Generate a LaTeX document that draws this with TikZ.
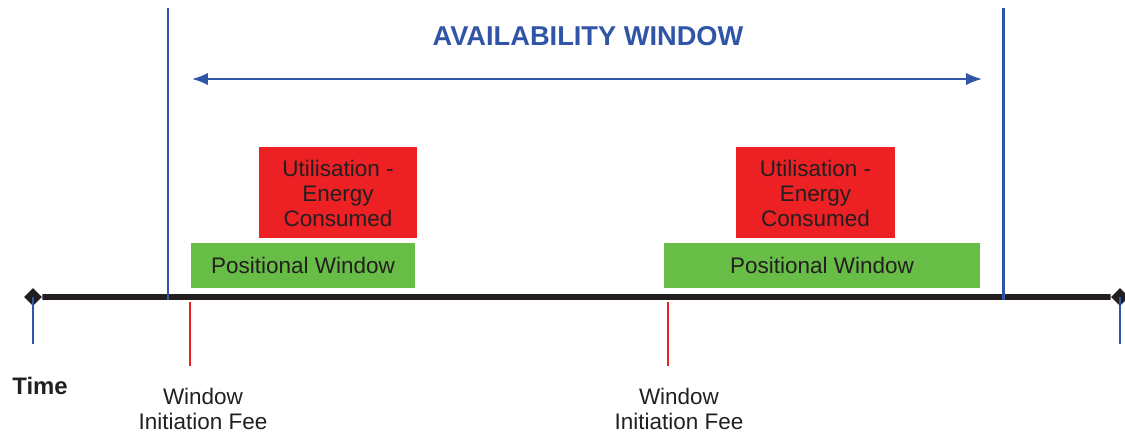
\documentclass[tikz,border=0pt]{standalone}
\usepackage{fontspec}
\setmainfont{Liberation Sans}
\usepackage{xcolor}
\usetikzlibrary{arrows.meta, positioning}

\definecolor{winblue}{RGB}{48,84,166}
\definecolor{usered}{RGB}{237,32,36}
\definecolor{posgreen}{RGB}{103,189,69}
\definecolor{axisblack}{RGB}{35,31,32}

\begin{document}
\begin{tikzpicture} [x = 0.02cm, y = -0.02cm, font=\fontsize{12.8}{14.2}\selectfont,
		usebox/.style = {fill = usered, text = axisblack, align = center, inner sep = 0pt,
		minimum width = 3.17cm, minimum height = 1.82cm},
		posbox/.style = {fill = posgreen, text = axisblack, inner sep = 0pt, minimum height = 0.9cm},
		feetext/.style = {align = center, text = axisblack},
		endmark/.style = {rectangle, rotate = 45, fill = axisblack, inner sep = 0pt, minimum size = 0.25cm}]
		% Help grid
		%	\draw [help lines] (0,0) grid [step = 50] (1125,434);
		\useasboundingbox (0,0) rectangle (1125,434);

		% Title and the window borders
		\node (title) [winblue, font = \fontsize{15.5}{18}\selectfont\bfseries] at (588,36) {AVAILABILITY WINDOW};
		\coordinate (avlt) at (168,8);
		\coordinate (avlb) at (168,300);
		\coordinate (avrt) at (1003,8);
		\coordinate (avrb) at (1003,300);
		\coordinate (arrl) at (192,79);
		\coordinate (arrr) at (982,79);

		% Time axis
		\node (start) [endmark] at (33,297) {};
		\node (end) [endmark] at (1120,297) {};
		\coordinate (startb) at (33,344);
		\coordinate (endb) at (1120,344);

		% Boxes
		\node (pos1) [posbox, minimum width = 4.48cm] at (303,265.5) {Positional Window};
		\node (use1) [usebox] at (338,192.5) {\rule{0pt}{10pt}Utilisation -\\Energy\\Consumed};
		\node (pos2) [posbox, minimum width = 6.32cm] at (822,265.5) {Positional Window};
		\node (use2) [usebox] at (815.5,192.5) {\rule{0pt}{10pt}Utilisation -\\Energy\\Consumed};

		% Fees
		\coordinate (fee1t) at (190,302);
		\coordinate (fee1b) at (190,366);
		\coordinate (fee2t) at (668,302);
		\coordinate (fee2b) at (668,366);
		\node (fee1) [feetext, below = 0.32cm of fee1b, xshift = 0.26cm] {Window\\Initiation Fee};
		\node (fee2) [feetext, below = 0.32cm of fee2b, xshift = 0.22cm] {Window\\Initiation Fee};

		\node (time) [text = axisblack, font = \fontsize{13.6}{16}\selectfont\bfseries] at (40,386) {Time};

		% Draw Lines
		\draw [axisblack, line width = 3.3pt] (start) -- (end);
		\draw [winblue, line width = 1pt] (start.center) -- (startb);
		\draw [winblue, line width = 1pt] (end.center) -- (endb);
		\draw [winblue, line width = 1.7pt] (avlt) -- (avlb);
		\draw [winblue, line width = 1.7pt] (avrt) -- (avrb);
		\draw [winblue, line width = 1.1pt, {Latex[length = 9pt, width = 7pt]}-{Latex[length = 9pt, width = 7pt]}]
		(arrl) -- (arrr);
		\draw [usered, line width = 1pt] (fee1t) -- (fee1b);
		\draw [usered, line width = 1pt] (fee2t) -- (fee2b);
	\end{tikzpicture}
\end{document}
